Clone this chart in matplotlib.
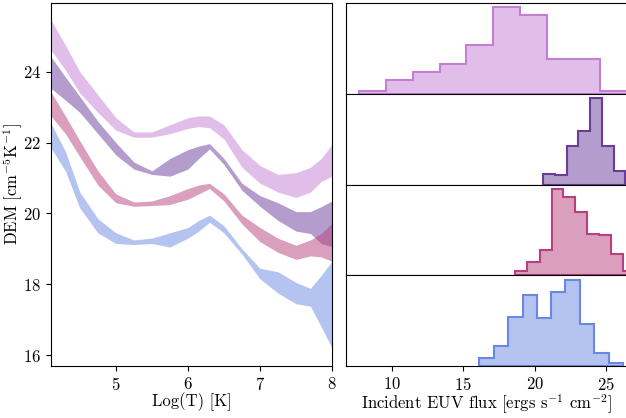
import numpy as np
import matplotlib
matplotlib.use("Agg")
import matplotlib.pyplot as plt

plt.rcParams["font.family"] = "serif"
plt.rcParams["font.serif"] = ["cmr10"]
plt.rcParams["mathtext.fontset"] = "cm"
plt.rcParams["axes.formatter.use_mathtext"] = True
plt.rcParams["font.size"] = 12

colors = ["#c47fd5", "#6a3d9a", "#b8407f", "#6a88e3"]

# DEM bands (log T grid, upper / lower edges)
logT = [4.1, 4.3, 4.5, 4.75, 5.0, 5.25, 5.5, 5.75, 6.0, 6.15, 6.3, 6.5,
        6.75, 7.0, 7.25, 7.5, 7.7, 7.85, 8.0]

dem1_hi = [25.46, 24.75, 24.0, 23.35, 22.7, 22.3, 22.3, 22.5, 22.7, 22.75, 22.75, 22.5,
           21.8, 21.35, 21.1, 21.15, 21.3, 21.55, 21.95]
dem1_lo = [24.61, 24.05, 23.4, 22.85, 22.35, 22.15, 22.15, 22.25, 22.4, 22.45, 22.42, 22.1,
           21.3, 20.85, 20.6, 20.45, 20.6, 20.9, 21.05]

dem2_hi = [24.42, 23.85, 23.3, 22.6, 22.0, 21.45, 21.2, 21.55, 21.8, 21.9, 21.97, 21.55,
           20.85, 20.5, 20.3, 20.05, 20.05, 20.19, 20.35]
dem2_lo = [23.53, 23.2, 22.85, 22.25, 21.65, 21.25, 21.1, 21.05, 21.25, 21.55, 21.82, 21.38,
           20.65, 20.2, 19.8, 19.5, 19.43, 19.15, 19.06]

dem3_hi = [23.43, 22.75, 22.05, 21.2, 20.55, 20.32, 20.35, 20.5, 20.7, 20.8, 20.85, 20.55,
           19.95, 19.6, 19.3, 19.1, 19.25, 19.43, 19.72]
dem3_lo = [22.75, 22.25, 21.6, 20.8, 20.3, 20.2, 20.22, 20.25, 20.4, 20.55, 20.7, 20.35,
           19.7, 19.2, 18.9, 18.7, 18.8, 18.77, 18.65]

dem4_hi = [22.54, 21.75, 20.6, 19.85, 19.45, 19.25, 19.3, 19.45, 19.6, 19.8, 19.95, 19.65,
           19.0, 18.45, 18.35, 18.05, 17.88, 18.25, 18.65]
dem4_lo = [21.84, 21.2, 20.15, 19.45, 19.15, 19.12, 19.15, 19.05, 19.3, 19.5, 19.75, 19.45,
           18.85, 18.15, 17.75, 17.45, 17.38, 16.8, 16.2]

# EUV flux histograms (bin edges, heights)
edges1 = [7.72, 9.60, 11.48, 13.35, 15.23, 17.10, 18.97, 20.85, 22.73, 24.60, 26.6]
counts1 = [1, 5, 8, 11, 18, 32, 29, 13, 13, 1]

edges2 = [20.62, 21.44, 22.26, 23.08, 23.90, 24.72, 25.54, 26.36, 27.18]
counts2 = [30, 28, 115, 160, 258, 115, 40, 5]

edges3 = [18.62, 19.49, 20.36, 21.20, 22.02, 22.84, 23.71, 24.53, 25.35, 26.22, 27.07]
counts3 = [12, 40, 75, 260, 235, 190, 125, 120, 65, 13]

edges4 = [16.14, 17.19, 18.16, 19.16, 20.15, 21.15, 22.17, 23.17, 24.18, 25.19, 26.20]
counts4 = [25, 60, 147, 215, 145, 222, 260, 125, 40, 10]

bands = [(dem1_hi, dem1_lo), (dem2_hi, dem2_lo), (dem3_hi, dem3_lo), (dem4_hi, dem4_lo)]
hists = [(edges1, counts1), (edges2, counts2), (edges3, counts3), (edges4, counts4)]

W, H = 626, 418
fig = plt.figure(figsize=(W / 100, H / 100), dpi=100)

ax = fig.add_axes([51 / W, (H - 366) / H, 281 / W, 363 / H])
for (hi, lo), c in zip(bands, colors):
    ax.fill_between(logT, lo, hi, color=c, alpha=0.5, lw=0)
ax.set_xlim(4.1, 8)
ax.set_ylim(15.69, 25.94)
ax.set_xticks([5, 6, 7, 8])
ax.set_yticks([16, 18, 20, 22, 24])
ax.set_xlabel("Log(T) [K]", labelpad=0)
ax.set_ylabel(r"DEM [cm$^{-5}$K$^{-1}$]")
ax.yaxis.set_label_coords(-0.094, 0.5)

panel_h = 363 / 4
for i, ((edges, counts), c) in enumerate(zip(hists, colors)):
    hx = fig.add_axes([346 / W, (H - 366 + (3 - i) * panel_h) / H, 281 / W, panel_h / H])
    hx.hist(edges[:-1], bins=edges, weights=counts, histtype="stepfilled",
            facecolor=matplotlib.colors.to_rgba(c, 0.5), edgecolor=c, lw=1.5)
    hx.set_xlim(6.79, 26.48)
    hx.set_yticks([])
    if i < 3:
        hx.set_xticks([])
    else:
        hx.set_xticks([10, 15, 20, 25])
        hx.set_xlabel(r"Incident EUV flux [ergs s$^{-1}$ cm$^{-2}$]", labelpad=0)

fig.savefig("out.png", dpi=100)
